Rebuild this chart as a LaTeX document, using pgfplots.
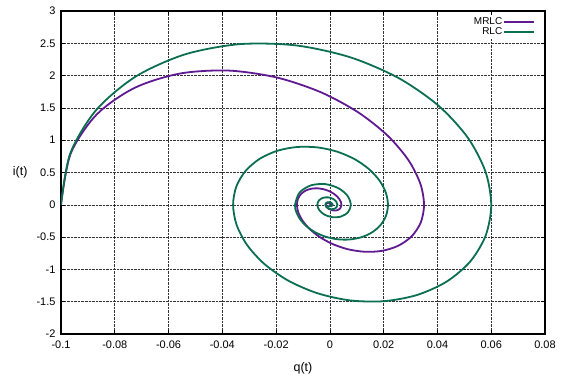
\documentclass[border=0pt]{standalone}
\usepackage{pgfplots}
\pgfplotsset{compat=1.18}
\usepackage{fontspec}
\setmainfont{Liberation Sans}
\definecolor{mrlc}{RGB}{95,25,145}
\definecolor{rlc}{RGB}{10,110,80}
\begin{document}
\begin{tikzpicture}
\begin{axis}[
  scale only axis, width=484bp, height=323bp,
  xmin=-0.1, xmax=0.08, ymin=-2, ymax=3,
  xtick={-0.1,-0.08,-0.06,-0.04,-0.02,0,0.02,0.04,0.06,0.08},
  xticklabels={-0.1,-0.08,-0.06,-0.04,-0.02,0,0.02,0.04,0.06,0.08},
  ytick={-2,-1.5,-1,-0.5,0,0.5,1,1.5,2,2.5,3},
  yticklabels={-2,-1.5,-1,-0.5,0,0.5,1,1.5,2,2.5,3},
  tick label style={font=\fontsize{11}{13}\selectfont},
  xticklabel style={yshift=-3bp},
  yticklabel style={xshift=-2bp},
  axis line style={line width=1.1pt},
  major tick length=4bp,
  tick style={black, line width=0.6pt},
  grid=major,
  major grid style={black!80, line width=0.6pt, dash pattern=on 0.7pt off 0.7pt},
  xlabel={q(t)}, ylabel={i(t)},
  every axis x label/.style={at={(rel axis cs:0.5,0)}, anchor=north, yshift=-25bp, font=\fontsize{12.5}{14}\selectfont},
  every axis y label/.style={at={(rel axis cs:0,0.5)}, anchor=east, xshift=-30bp, font=\fontsize{12.5}{14}\selectfont},
  legend style={at={(rel axis cs:1,1)}, anchor=north east, xshift=-8bp, yshift=-4bp,
    draw=none, fill=white, font=\fontsize{10}{11}\selectfont, row sep=0pt, inner sep=2pt,
    nodes={inner sep=0.8pt}},
  legend cell align=right,
  legend plot pos=right,
  legend image code/.code={\draw[#1, line width=1.8pt] (0bp,0bp) -- (30bp,0bp);},
]
\addplot[color=mrlc, line width=1.8pt, smooth] coordinates {
(-0.1,0) (-0.09642,0.7897) (-0.08673,1.3979) (-0.07257,1.8114) (-0.05563,2.0327) (-0.03755,2.0774) (-0.01977,1.9707) (-0.00346,1.7442) (0.01047,1.4328) (0.02144,1.0720) (0.02916,0.6946) (0.03362,0.3294)
(0.03502,0) (0.03377,-0.2766) (0.03037,-0.4895) (0.02541,-0.6343) (0.01948,-0.7119) (0.01315,-0.7275) (0.00692,-0.6901) (0.00121,-0.6108) (-0.00367,-0.5018) (-0.00751,-0.3754) (-0.01021,-0.2432) (-0.01177,-0.1154)
(-0.01226,0) (-0.01183,0.0968) (-0.01064,0.1714) (-0.00890,0.2221) (-0.00682,0.2493) (-0.00461,0.2548) (-0.00242,0.2417) (-0.00042,0.2139) (0.00128,0.1757) (0.00263,0.1315) (0.00358,0.0852) (0.00412,0.0404)
(0.00430,0) (0.00373,-0.0600) (0.00239,-0.0873) (0.00085,-0.0846) (-0.00045,-0.0615) (-0.00125,-0.0298)
(-0.00150,0) (-0.00130,0.0210) (-0.00084,0.0306) (-0.00030,0.0296) (0.00016,0.0216) (0.00044,0.0104)
(0.00053,0) (0.00029,-0.0107) (-0.00006,-0.0075) (0,0)
};
\addlegendentry{MRLC}
\addplot[color=rlc, line width=1.8pt, smooth] coordinates {
(-0.1,0) (-0.09660,0.7899) (-0.08700,1.4625) (-0.07235,1.9821) (-0.05405,2.3263) (-0.03362,2.4866) (-0.01259,2.4670) (0.00755,2.2836) (0.02555,1.9621) (0.04036,1.5353) (0.05127,1.0404) (0.05784,0.5161)
(0.06,0) (0.05796,-0.4739) (0.05220,-0.8775) (0.04341,-1.1893) (0.03243,-1.3958) (0.02017,-1.4920) (0.00755,-1.4802) (-0.00453,-1.3702) (-0.01533,-1.1773) (-0.02422,-0.9212) (-0.03076,-0.6242) (-0.03470,-0.3097)
(-0.036,0) (-0.03478,0.2844) (-0.03132,0.5265) (-0.02605,0.7136) (-0.01946,0.8375) (-0.01210,0.8952) (-0.00453,0.8881) (0.00272,0.8221) (0.00920,0.7064) (0.01453,0.5527) (0.01846,0.3745) (0.02082,0.1858)
(0.0216,0) (0.02087,-0.1706) (0.01879,-0.3159) (0.01563,-0.4281) (0.01167,-0.5025) (0.00726,-0.5371) (0.00272,-0.5329) (-0.00163,-0.4933) (-0.00552,-0.4238) (-0.00872,-0.3316) (-0.01107,-0.2247) (-0.01249,-0.1115)
(-0.01296,0) (-0.01128,0.1895) (-0.00700,0.3015) (-0.00163,0.3197) (0.00331,0.2543) (0.00664,0.1348)
(0.00778,0) (0.00677,-0.1137) (0.00420,-0.1809) (0.00098,-0.1918) (-0.00199,-0.1526) (-0.00399,-0.0809)
(-0.00467,0) (-0.00406,0.0682) (-0.00252,0.1085) (-0.00059,0.1151) (0.00119,0.0915) (0.00239,0.0485)
(0.00280,0) (0.00244,-0.0409) (0.00151,-0.0651) (0.00035,-0.0690) (-0.00072,-0.0549) (-0.00144,-0.0291)
(-0.00168,0) (-0.00146,0.0246) (-0.00091,0.0391) (-0.00021,0.0414) (0.00043,0.0330) (0.00086,0.0175)
(0.00101,0) (0.00054,-0.0234) (-0.00026,-0.0198) (0,0)
};
\addlegendentry{RLC}
\end{axis}
\pgfresetboundingbox
\path ([shift={(-61bp,-48bp)}]current axis.south west) rectangle ([shift={(19bp,11bp)}]current axis.north east);
\end{tikzpicture}
\end{document}
